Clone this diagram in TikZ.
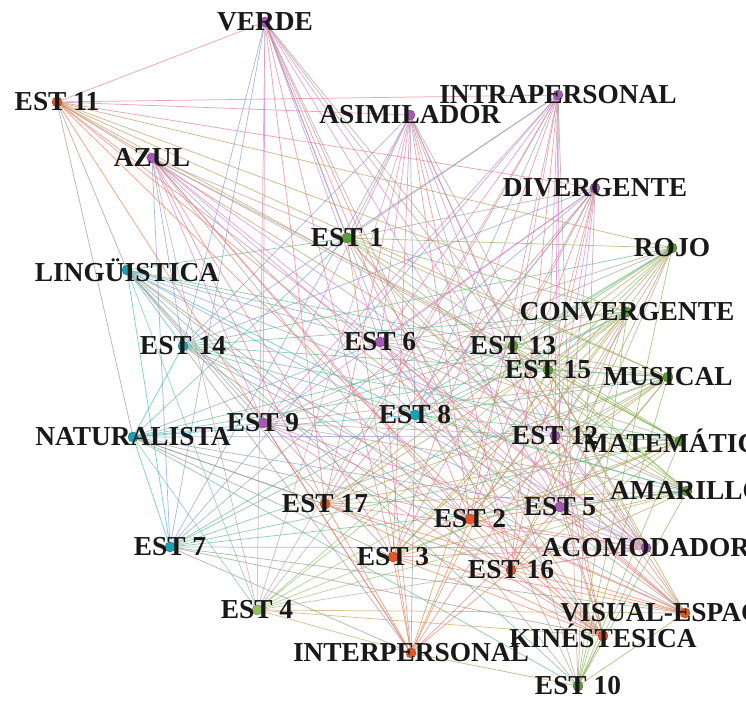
\documentclass[tikz,border=0pt]{standalone}
\usepackage{fontspec}
\setmainfont{Liberation Serif}
% marker colours
\definecolor{cpur}{HTML}{A45CB8}
\definecolor{cgrn}{HTML}{5E9C38}
\definecolor{clgr}{HTML}{93BE63}
\definecolor{ctea}{HTML}{1AA3B2}
\definecolor{corg}{HTML}{E2582B}
% link colours (lighter tints of the marker colours)
\definecolor{lpur}{HTML}{D77ED0}
\definecolor{lgrn}{HTML}{86B856}
\definecolor{llgr}{HTML}{A8CC7A}
\definecolor{ltea}{HTML}{3FB8C8}
\definecolor{lorg}{HTML}{EE7A50}
\tikzset{
  edge/.style={line width=0.75bp, opacity=0.68},
  dot/.style={circle, inner sep=0pt, minimum size=10bp},
  lbl/.style={inner sep=0pt, anchor=center, text=black!90,
              font=\fontsize{27.5}{27.5}\selectfont\bfseries}
}
\begin{document}
\begin{tikzpicture}[x=1bp, y=-1bp]
\useasboundingbox (0,0) rectangle (746,706);
\clip (0,0) rectangle (746,706);
\fill[white] (0,0) rectangle (746,706);

% students
\foreach \n/\x/\y/\g/\l in {
  e1/347/238/cgrn/lgrn, e2/470/519/corg/lorg, e3/393/557/corg/lorg,
  e4/257/610/clgr/llgr, e5/560/507/cpur/lpur, e6/380/342/cpur/lpur,
  e7/170/547/ctea/ltea, e8/415/415/ctea/ltea, e9/263/423/cpur/lpur,
  e10/578/686/cgrn/lgrn, e11/57/102/corg/lorg, e12/555/436/cpur/lpur,
  e13/513/346/cgrn/lgrn, e14/183/346/ctea/ltea, e15/548/370/cgrn/lgrn,
  e16/511/570/corg/lorg, e17/325/504/corg/lorg}
  {\coordinate (\n) at (\x,\y);
   \xglobal\colorlet{c\n}{\g}\xglobal\colorlet{l\n}{\l}}

% categories
\foreach \n/\x/\y/\g/\l in {
  verde/265/22/cpur/lpur, azul/152/158/cpur/lpur, rojo/672/248/cgrn/lgrn,
  amarillo/687/491/cgrn/lgrn, asim/410/115/cpur/lpur, diver/595/188/cpur/lpur,
  conver/627/312/cgrn/lgrn, acomo/646/548/cpur/lpur, ling/127/270/ctea/ltea,
  natu/133/437/ctea/ltea, musi/668/377/cgrn/lgrn, mate/680/441/cgrn/lgrn,
  inter/411/653/corg/lorg, intra/558/95/cpur/lpur, visu/685/613/corg/lorg,
  kine/603/636/corg/lorg}
  {\coordinate (\n) at (\x,\y);
   \xglobal\colorlet{c\n}{\g}\xglobal\colorlet{l\n}{\l}}

% student-category links, edge colour mixed from both ends
\foreach \s in {e1,e2,e3,e4,e5,e6,e7,e8,e9,e10,e11,e12,e13,e14,e15,e16,e17}{
  \foreach \c in {verde,azul,rojo,amarillo,asim,diver,conver,acomo,
                  ling,natu,musi,mate,inter,intra,visu,kine}{
    \draw[edge, color=l\s!50!l\c] (\s) -- (\c);
  }
}

% node markers
\foreach \n in {e1,e2,e3,e4,e5,e6,e7,e8,e9,e10,e11,e12,e13,e14,e15,e16,e17,
                verde,azul,rojo,amarillo,asim,diver,conver,acomo,ling,natu,
                musi,mate,inter,intra,visu,kine}
  {\node[dot, fill=c\n, draw=c\n!70!black] at (\n) {};}

% labels
\foreach \n/\t in {
  e1/EST 1, e2/EST 2, e3/EST 3, e4/EST 4, e5/EST 5, e6/EST 6, e7/EST 7,
  e8/EST 8, e9/EST 9, e10/EST 10, e11/EST 11, e12/EST 12, e13/EST 13,
  e14/EST 14, e15/EST 15, e16/EST 16, e17/EST 17,
  verde/VERDE, azul/AZUL, rojo/ROJO, amarillo/AMARILLO, asim/ASIMILADOR,
  diver/DIVERGENTE, conver/CONVERGENTE, acomo/ACOMODADOR,
  ling/LINGÜISTICA, natu/NATURALISTA, musi/MUSICAL, mate/MATEMÁTICA,
  inter/INTERPERSONAL, intra/INTRAPERSONAL, visu/VISUAL-ESPACIAL,
  kine/KINÉSTESICA}
  {\node[lbl] (t\n) at (\n) {\t};}
\end{tikzpicture}
\end{document}
